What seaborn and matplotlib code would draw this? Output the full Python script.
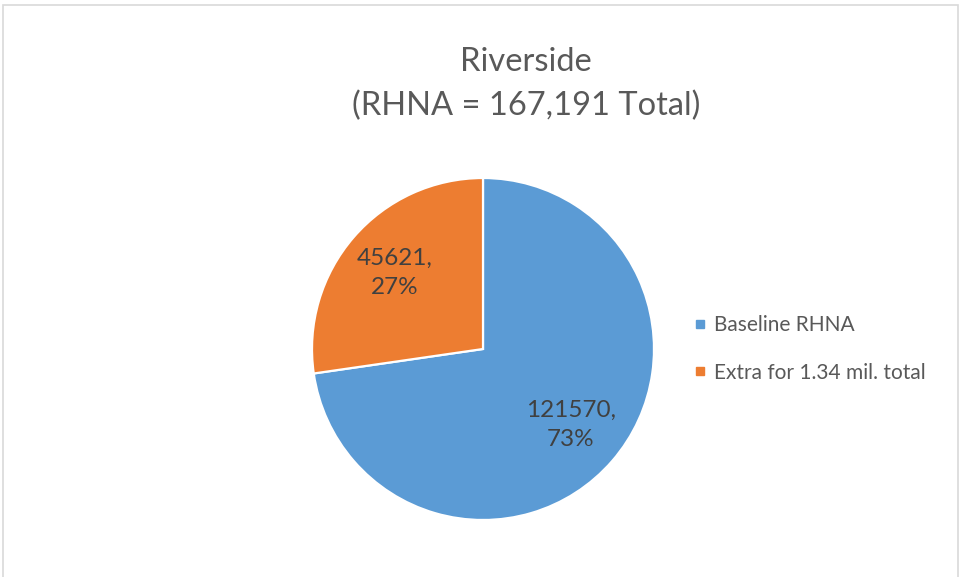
import matplotlib
matplotlib.use("Agg")
import matplotlib.pyplot as plt
from matplotlib.lines import Line2D
from matplotlib.patches import Rectangle
import seaborn as sns

# Riverside RHNA split
categories = ["Baseline RHNA", "Extra for 1.34 mil. total"]
values = [121570, 45621]
title_lines = ["Riverside", "(RHNA = 167,191 Total)"]

sns.set_theme(style="white")
plt.rcParams["font.family"] = ["Lato", "DejaVu Sans"]

colors = ["#5B9BD5", "#ED7D31"]
W, H = 961, 577
fig = plt.figure(figsize=(W / 100, H / 100), dpi=100)
fig.patch.set_facecolor("white")

# light frame around the chart area
fig.patches.append(Rectangle((2.5 / W, -0.05), (958 - 2.5) / W, 1.05 - 5 / H,
                             transform=fig.transFigure, fill=False,
                             edgecolor="#d9d9d9", linewidth=1.2))

cx, cy, r = 483, 349, 171
ax = fig.add_axes([(cx - r) / W, (H - cy - r) / H, 2 * r / W, 2 * r / H])

total = sum(values)


def fmt(p):
    v = int(round(p * total / 100.0))
    return f"{v},\n{p:.0f}%"


wedges, texts, autotexts = ax.pie(
    values, colors=colors, startangle=90, counterclock=False,
    autopct=fmt, pctdistance=0.68,
    wedgeprops=dict(edgecolor="white", linewidth=1.6),
)
for t in autotexts:
    t.set_color("#404040")
    t.set_fontsize(17.5)
    t.set_linespacing(1.45)
ax.set_xlim(-1, 1)
ax.set_ylim(-1, 1)
ax.set_aspect("auto")
ax.axis("off")

fig.text(526 / W, 1 - 71 / H, title_lines[0], ha="center", va="baseline",
         fontsize=23.5, color="#595959")
fig.text(526 / W, 1 - 115 / H, title_lines[1], ha="center", va="baseline",
         fontsize=23.5, color="#595959")

handles = [Line2D([0], [0], marker="s", linestyle="none", markersize=5.5,
                  markerfacecolor=c, markeredgecolor=c) for c in colors]
leg = fig.legend(handles, categories, loc="center left",
                 bbox_to_anchor=(684 / W, 1 - 349 / H), frameon=False,
                 fontsize=15, labelspacing=1.3, handlelength=0.5,
                 handletextpad=0.45, borderpad=0)
for t in leg.get_texts():
    t.set_color("#595959")

fig.savefig("out.png", dpi=100, facecolor="white")
